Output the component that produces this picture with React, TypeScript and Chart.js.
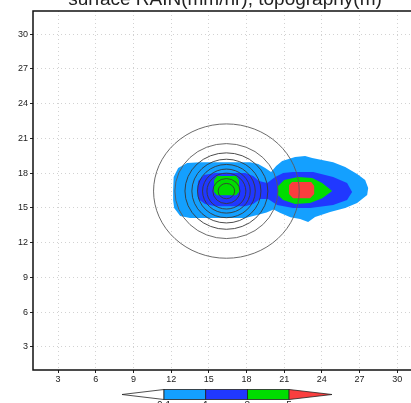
import { useEffect, useRef } from "react";
import { Chart, registerables } from "chart.js";

Chart.register(...registerables);

// ---- data ----
const xTicks = [3, 6, 9, 12, 15, 18, 21, 24, 27, 30];
const yTicks = [3, 6, 9, 12, 15, 18, 21, 24, 27, 30];
const xMin = 1;
const xMax = 31.1;
const yMin = 1;
const yMax = 32;

const titleText = "surface RAIN(mm/hr), topography(m)";

const rainLevels = ["0.1", "1", "3", "5"];
const rainColors = ["#ffffff", "rgb(20,160,255)", "rgb(32,56,255)", "rgb(0,220,0)", "rgb(250,62,62)"];

// rain >= 0.1
const rainLightBlue = [
  [12.16, 16.54], [12.2, 17.66], [12.56, 18.44], [13.27, 18.87], [14.31, 18.95], [18.29, 18.95],
  [18.93, 18.78], [19.49, 18.44], [19.96, 18.1], [20.36, 18.61], [20.84, 19.05], [21.87, 19.39],
  [22.67, 19.47], [23.23, 19.3], [24.9, 18.95], [25.86, 18.52], [26.81, 17.92], [27.45, 17.4],
  [27.69, 16.71], [27.61, 16.11], [26.81, 15.42], [25.86, 14.98], [24.66, 14.64], [23.46, 14.21],
  [22.91, 13.78], [22.27, 14.03], [21.5, 14.2], [20.7, 14.55], [20.15, 14.85], [19.6, 14.6],
  [18.86, 14.38], [17.9, 14.12], [13.51, 14.12], [12.72, 14.29], [12.24, 14.98], [12.16, 15.66],
];
// rain >= 1
const rainBlue = [
  [14.07, 16.54], [14.15, 17.32], [14.62, 17.84], [15.5, 18.01], [17.89, 18.01], [18.53, 17.75],
  [19.0, 17.32], [19.64, 17.14], [20.28, 17.66], [20.92, 18.01], [21.71, 18.1], [23.31, 18.1],
  [24.9, 17.66], [26.01, 17.14], [26.41, 16.36], [26.01, 15.67], [24.9, 15.24], [23.07, 14.98],
  [21.71, 14.98], [20.44, 15.24], [19.72, 15.76], [19.09, 15.76], [18.53, 15.33], [17.89, 15.15],
  [15.5, 15.15], [14.7, 15.33], [14.15, 15.76],
];
// rain >= 3
const rainGreenWest = [
  [15.42, 17.4], [15.66, 17.75], [17.17, 17.75], [17.41, 17.4], [17.41, 16.36], [17.17, 16.1],
  [15.66, 16.1], [15.42, 16.36],
];
const rainGreenEast = [
  [20.52, 16.88], [21.0, 17.4], [22.11, 17.66], [23.23, 17.57], [24.03, 17.14], [24.82, 16.45],
  [24.03, 15.84], [23.07, 15.41], [21.87, 15.33], [20.92, 15.67], [20.52, 16.1],
];
// rain >= 5
const rainRedEast = [
  [21.39, 16.97], [21.63, 17.23], [23.15, 17.23], [23.39, 16.88], [23.39, 16.19], [23.07, 15.84],
  [21.71, 15.84], [21.39, 16.19],
];

// topography contours (circular mountain)
const topoCenter = [16.4, 16.45];
const topoRadii = [5.8, 4.1, 3.3, 2.75, 2.3, 1.9, 1.55, 1.08, 0.66];

const rainPolygons = [
  { pts: rainLightBlue, color: rainColors[1] },
  { pts: rainBlue, color: rainColors[2] },
  { pts: rainGreenWest, color: rainColors[3] },
  { pts: rainGreenEast, color: rainColors[3] },
  { pts: rainRedEast, color: rainColors[4] },
];

const FONT = '"Liberation Sans", Arial, sans-serif';

const contourPlugin = {
  id: "contourPlugin",
  beforeDatasetsDraw(chart: any) {
    const { ctx, chartArea } = chart;
    ctx.save();
    ctx.beginPath();
    ctx.rect(chartArea.left, chartArea.top, chartArea.right - chartArea.left, chartArea.bottom - chartArea.top);
    ctx.clip();
    chart.data.datasets.forEach((ds: any, i: number) => {
      if (!ds.isContour) return;
      const meta = chart.getDatasetMeta(i);
      const els = meta.data;
      if (!els.length) return;
      ctx.beginPath();
      els.forEach((el: any, j: number) => {
        if (j === 0) ctx.moveTo(el.x, el.y);
        else ctx.lineTo(el.x, el.y);
      });
      ctx.closePath();
      ctx.fillStyle = ds.fillColor;
      ctx.fill();
    });
    ctx.restore();
  },
  afterDatasetsDraw(chart: any) {
    const { ctx, chartArea, scales } = chart;
    const xs = scales.x;
    const ys = scales.y;
    ctx.save();
    ctx.beginPath();
    ctx.rect(chartArea.left, chartArea.top, chartArea.right - chartArea.left, chartArea.bottom - chartArea.top);
    ctx.clip();
    const cx = xs.getPixelForValue(topoCenter[0]);
    const cy = ys.getPixelForValue(topoCenter[1]);
    topoRadii.forEach((r, i) => {
      const rx = Math.abs(xs.getPixelForValue(topoCenter[0] + r) - cx);
      const ry = Math.abs(ys.getPixelForValue(topoCenter[1] + r) - cy);
      ctx.beginPath();
      ctx.ellipse(cx, cy, rx, ry, 0, 0, Math.PI * 2);
      ctx.strokeStyle = i < 2 ? "#5a5a5a" : "#383838";
      ctx.lineWidth = 0.9;
      ctx.stroke();
    });
    ctx.restore();
  },
  afterDraw(chart: any) {
    const { ctx, chartArea } = chart;
    ctx.save();
    // frame
    ctx.strokeStyle = "#111";
    ctx.lineWidth = 1.5;
    ctx.beginPath();
    ctx.moveTo(chartArea.right + 2, chartArea.top);
    ctx.lineTo(chartArea.left, chartArea.top);
    ctx.lineTo(chartArea.left, chartArea.bottom);
    ctx.lineTo(chartArea.right + 2, chartArea.bottom);
    ctx.stroke();

    // title (cut off at the top of the page)
    ctx.fillStyle = "#222";
    ctx.font = `19px ${FONT}`;
    ctx.textAlign = "center";
    ctx.textBaseline = "alphabetic";
    ctx.fillText(titleText, 225, 4.5);

    // colour bar
    const x0 = 164;
    const step = 41.7;
    const tipL = 122;
    const tipR = 332;
    const top = 389.5;
    const bot = 399.5;
    const mid = (top + bot) / 2;
    const n = rainLevels.length - 1;
    ctx.lineWidth = 0.8;
    ctx.strokeStyle = "#222";
    // left triangle
    ctx.beginPath();
    ctx.moveTo(x0, top);
    ctx.lineTo(tipL, mid);
    ctx.lineTo(x0, bot);
    ctx.closePath();
    ctx.fillStyle = rainColors[0];
    ctx.fill();
    ctx.stroke();
    for (let i = 0; i < n; i++) {
      ctx.fillStyle = rainColors[i + 1];
      ctx.fillRect(x0 + i * step, top, step, bot - top);
      ctx.strokeRect(x0 + i * step, top, step, bot - top);
    }
    const xr = x0 + n * step;
    ctx.beginPath();
    ctx.moveTo(xr, top);
    ctx.lineTo(tipR, mid);
    ctx.lineTo(xr, bot);
    ctx.closePath();
    ctx.fillStyle = rainColors[rainColors.length - 1];
    ctx.fill();
    ctx.stroke();
    ctx.fillStyle = "#222";
    ctx.font = `10px ${FONT}`;
    ctx.textBaseline = "top";
    rainLevels.forEach((lab, i) => {
      ctx.fillText(lab, x0 + i * step, 401);
    });
    ctx.restore();
  },
};

export default function App() {
  const ref = useRef<HTMLCanvasElement | null>(null);
  useEffect(() => {
    if (!ref.current) return;
    const datasets: any[] = rainPolygons.map((p) => ({
      type: "scatter",
      isContour: true,
      fillColor: p.color,
      data: p.pts.map(([x, y]) => ({ x, y })),
      pointRadius: 0,
      borderWidth: 0,
      showLine: false,
    }));
    const chart = new Chart(ref.current, {
      type: "scatter",
      data: { datasets },
      options: {
        responsive: false,
        animation: false,
        devicePixelRatio: 1,
        events: [],
        layout: { padding: { top: 11, left: 0, right: 0, bottom: 0 } },
        plugins: { legend: { display: false }, tooltip: { enabled: false }, title: { display: false } },
        scales: {
          x: {
            type: "linear",
            min: xMin,
            max: xMax,
            afterBuildTicks: (s: any) => {
              s.ticks = xTicks.map((v) => ({ value: v }));
            },
            afterFit: (s: any) => {
              s.height = 33;
            },
            ticks: {
              autoSkip: false,
              maxRotation: 0,
              padding: 1,
              color: "#222",
              font: { family: FONT, size: 9 },
              callback: (v: any) => String(v),
            },
            grid: {
              color: "#d2d2d2",
              lineWidth: 1,
              tickColor: "#222",
              tickLength: 3,
              tickWidth: 1,
              tickBorderDash: [],
            },
            border: { display: false, dash: [1, 3] },
          },
          y: {
            type: "linear",
            min: yMin,
            max: yMax,
            afterBuildTicks: (s: any) => {
              s.ticks = yTicks.map((v) => ({ value: v }));
            },
            afterFit: (s: any) => {
              s.width = 33;
            },
            ticks: {
              autoSkip: false,
              padding: 2,
              color: "#222",
              font: { family: FONT, size: 9 },
              callback: (v: any) => String(v),
            },
            grid: {
              color: "#d2d2d2",
              lineWidth: 1,
              tickColor: "#222",
              tickLength: 3,
              tickWidth: 1,
              tickBorderDash: [],
            },
            border: { display: false, dash: [1, 3] },
          },
        },
      },
      plugins: [contourPlugin],
    } as any);
    return () => chart.destroy();
  }, []);
  return (
    <div style={{ position: "fixed", left: 0, top: 0, width: 411, height: 403, background: "#fff" }}>
      <canvas ref={ref} width={411} height={403} style={{ display: "block" }} />
    </div>
  );
}
